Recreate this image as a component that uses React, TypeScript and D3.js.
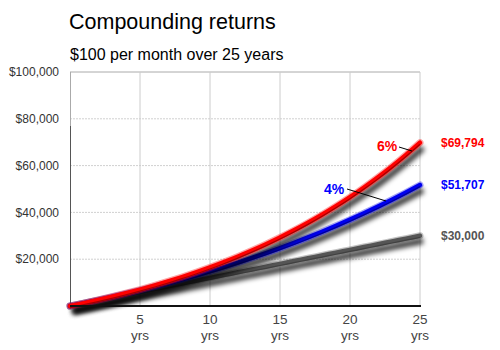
import React from "react";
import * as d3 from "d3";

const years = d3.range(0, 26);
const flat0 = [0, 1200, 2400, 3600, 4800, 6000, 7200, 8400, 9600, 10800, 12000, 13200, 14400, 15600, 16800, 18000, 19200, 20400, 21600, 22800, 24000, 25200, 26400, 27600, 28800, 30000];
const rate4 = [0, 1229, 2509, 3840, 5226, 6668, 8169, 9731, 11357, 13049, 14809, 16642, 18549, 20534, 22600, 24750, 26988, 29317, 31740, 34262, 36887, 39620, 42463, 45422, 48502, 51707];
const rate6 = [0, 1242, 2561, 3962, 5449, 7027, 8703, 10482, 12371, 14376, 16505, 18765, 21165, 23713, 26418, 29290, 32339, 35576, 39012, 42661, 46534, 50647, 55013, 59648, 64570, 69794];

const yTicks = [20000, 40000, 60000, 80000, 100000];
const xTicks = [5, 10, 15, 20, 25];

const series = [
  { name: "0%", values: flat0, color: "#555555", dark: "#333333", endLabel: "$30,000", labelColor: "#555555" },
  { name: "4%", values: rate4, color: "#0000ee", dark: "#000066", endLabel: "$51,707", labelColor: "#0000ff" },
  { name: "6%", values: rate6, color: "#ff0000", dark: "#660000", endLabel: "$69,794", labelColor: "#ff0000" },
];

export default function App() {
  const x = d3.scaleLinear().domain([0, 25]).range([70, 420]);
  const y = d3.scaleLinear().domain([0, 100000]).range([306, 72]);
  const line = d3.line<number>().x((_, i) => x(years[i])).y((d) => y(d)).curve(d3.curveMonotoneX);
  const fmt = d3.format("$,");
  const font = "Arial, 'Liberation Sans', Helvetica, sans-serif";

  return (
    <svg width={500} height={350} style={{ position: "absolute", left: 0, top: 0, background: "#fff" }} fontFamily={font}>
      <defs>
        <filter id="shadow" x="-10%" y="-20%" width="130%" height="150%">
          <feGaussianBlur stdDeviation="2.5" />
        </filter>
      </defs>
      <rect width={500} height={350} fill="#fff" />
      <text x={69} y={29} fontSize={21.5} fill="#000">Compounding returns</text>
      <text x={70} y={59.5} fontSize={16} fill="#000">$100 per month over 25 years</text>

      {/* grid */}
      {yTicks.map((t) => (
        <line key={t} x1={70} x2={420} y1={y(t)} y2={y(t)} stroke={t === 100000 ? "#aaaaaa" : "#d0d0d0"} strokeDasharray={t === 100000 ? undefined : "2,1"} />
      ))}
      {xTicks.map((t) => (
        <line key={t} x1={x(t)} x2={x(t)} y1={72} y2={306} stroke="#cccccc" />
      ))}
      <line x1={70.5} x2={70.5} y1={72} y2={306} stroke="#aaaaaa" />
      <line x1={70.5} x2={70.5} y1={126} y2={306} stroke="#555555" />

      {/* y labels */}
      {yTicks.map((t) => (
        <text key={t} x={59} y={y(t)} dy="0.35em" textAnchor="end" fontSize={12} fill="#333">{fmt(t)}</text>
      ))}
      {/* x labels */}
      {xTicks.map((t) => (
        <g key={t}>
          <text x={x(t)} y={319} dy="0.35em" textAnchor="middle" fontSize={13.5} fill="#444">{t}</text>
          <text x={x(t)} y={335} dy="0.35em" textAnchor="middle" fontSize={13.5} fill="#444">yrs</text>
        </g>
      ))}

      {/* lines */}
      {series.map((s) => (
        <g key={s.name}>
          <path d={line(s.values) || ""} transform="translate(3,5)" fill="none" stroke="#000" strokeOpacity={0.8} strokeWidth={6} filter="url(#shadow)" />
          <path d={line(s.values) || ""} fill="none" stroke={s.color} strokeOpacity={0.35} strokeWidth={7} strokeLinecap="round" />
          <path d={line(s.values) || ""} fill="none" stroke={s.color} strokeWidth={4.5} strokeLinecap="round" />
          <path d={line(s.values) || ""} transform="translate(0,1.6)" fill="none" stroke={s.dark} strokeOpacity={0.6} strokeWidth={1.2} />
        </g>
      ))}

      <line x1={70} x2={421} y1={306} y2={306} stroke="#111" strokeWidth={2} />

      {/* end labels */}
      {series.map((s) => (
        <text key={s.name} x={441} y={y(s.values[25])} dy="0.35em" fontSize={12} fontWeight="bold" fill={s.labelColor}>{s.endLabel}</text>
      ))}

      {/* series labels with leader lines */}
      <text x={377} y={146} dy="0.35em" fontSize={14} fontWeight="bold" fill="#ff0000">6%</text>
      <line x1={399} y1={147} x2={412} y2={151} stroke="#000" strokeWidth={1} />
      <text x={324} y={189} dy="0.35em" fontSize={14} fontWeight="bold" fill="#0000ff">4%</text>
      <line x1={347} y1={189} x2={386} y2={201} stroke="#000" strokeWidth={1} />
    </svg>
  );
}
